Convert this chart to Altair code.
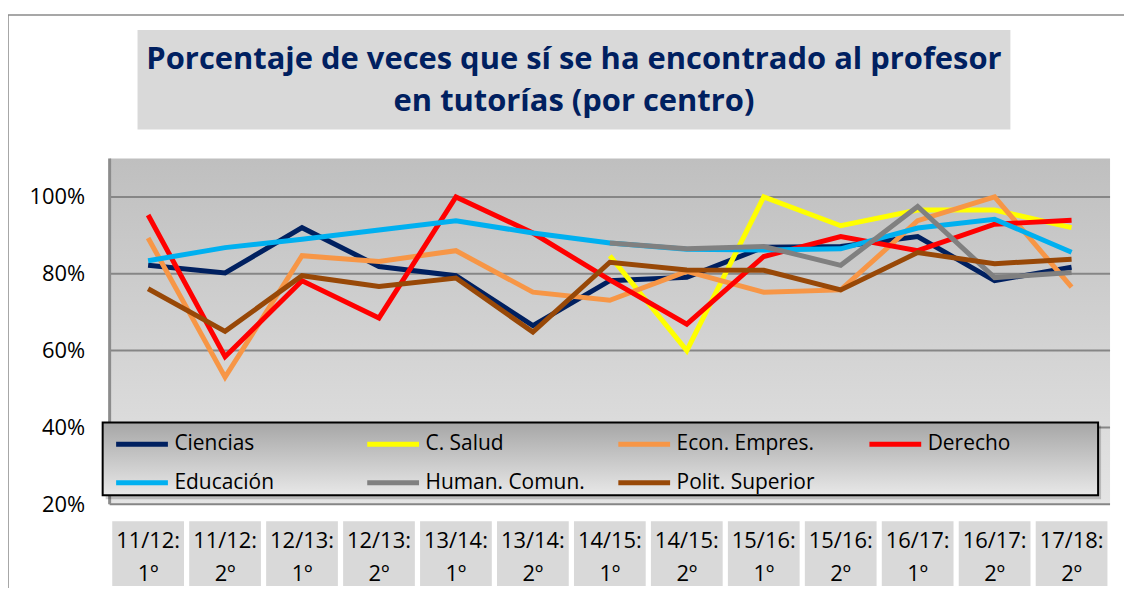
import altair as alt
import pandas as pd

categories = ["11/12: 1º", "11/12: 2º", "12/13: 1º", "12/13: 2º", "13/14: 1º",
              "13/14: 2º", "14/15: 1º", "14/15: 2º", "15/16: 1º", "15/16: 2º",
              "16/17: 1º", "16/17: 2º", "17/18: 2º"]

series_names = ["Ciencias", "C. Salud", "Econ. Empres.", "Derecho",
                "Educación", "Human. Comun.", "Polit. Superior"]
series_colors = ["#002060", "#FFFF00", "#F79646", "#FF0000",
                 "#00B0F0", "#808080", "#984807"]

ciencias = [82.2, 80.2, 92.0, 81.9, 79.5, 66.5, 78.2, 79.1, 86.9, 87.1, 89.7, 78.2, 81.7]
c_salud = [None, None, None, None, None, None, 84.7, 60.0, 100.0, 92.5, 96.6, 96.6, 92.0]
econ = [89.3, 53.1, 84.7, 83.2, 86.0, 75.2, 73.1, 80.6, 75.2, 75.8, 93.8, 100.0, 76.5]
derecho = [95.3, 58.4, 78.2, 68.5, 100.0, 90.6, 78.4, 66.9, 84.5, 89.7, 86.0, 92.9, 93.9]
educacion = [83.4, 86.8, 89.0, 91.4, 93.8, 90.6, 88.0, 86.4, 86.2, 86.5, 91.9, 94.2, 85.6]
human = [None, None, None, None, None, None, 88.0, 86.5, 87.1, 82.2, 97.5, 79.0, 80.3]
polit = [76.1, 65.0, 79.5, 76.7, 78.9, 64.8, 83.0, 81.0, 80.9, 75.8, 85.5, 82.6, 83.8]

y_ticks = [20, 40, 60, 80, 100]

title_text = "Porcentaje de veces que sí se ha encontrado al profesor\nen tutorías (por centro)"

all_series = [ciencias, c_salud, econ, derecho, educacion, human, polit]
rows = []
for name, vals in zip(series_names, all_series):
    for c, v in zip(categories, vals):
        if v is not None:
            rows.append({"serie": name, "cat": c, "v": v})
df = pd.DataFrame(rows)
cat_df = pd.DataFrame({"cat": categories})
tick_df = pd.DataFrame({"t": y_ticks})
one = pd.DataFrame({"k": [0]})

W, H = 1004, 347
FONT = "Open Sans"

xscale = alt.Scale(type="point", domain=categories, padding=0.5)
yscale = alt.Scale(domain=[20, 110], nice=False, zero=False)

plot_bg = alt.Chart(one).mark_rect(
    color=alt.Gradient(gradient="linear", x1=0, y1=0, x2=0, y2=1,
                       stops=[alt.GradientStop(color="#bfbfbf", offset=0),
                              alt.GradientStop(color="#e4e4e4", offset=1)])
).encode(x=alt.value(0), x2=alt.value(W), y=alt.value(0), y2=alt.value(H))

grid = alt.Chart(tick_df).mark_rule(color="#868686", strokeWidth=2).encode(
    y=alt.Y("t:Q", scale=yscale,
            axis=alt.Axis(title=None, values=y_ticks, grid=False, domain=False,
                          ticks=False, labelExpr="datum.value + '%'",
                          labelFont=FONT, labelFontSize=22, labelColor="#000000",
                          labelPadding=25)),
    x=alt.value(0), x2=alt.value(W))

left_axis = alt.Chart(one).mark_rule(color="#8c8c8c", strokeWidth=3).encode(
    x=alt.value(0), y=alt.value(0), y2=alt.value(H))

lines = alt.Chart(df).mark_line(strokeWidth=5).encode(
    x=alt.X("cat:N", scale=xscale, axis=None, sort=categories),
    y=alt.Y("v:Q", scale=yscale),
    color=alt.Color("serie:N", sort=series_names,
                    scale=alt.Scale(domain=series_names, range=series_colors),
                    legend=alt.Legend(title=None, orient="none", legendX=4, legendY=258,
                                      columns=4, direction="horizontal",
                                      symbolType="stroke", symbolSize=2700,
                                      symbolStrokeWidth=5, labelFont=FONT,
                                      labelFontSize=21, labelColor="#000000",
                                      labelOffset=4, columnPadding=23, rowPadding=-20,
                                      gridAlign="all", padding=0, zindex=1,
                                      labelLimit=300)),
    order=alt.Order("serie_order:Q"))

lines = lines.transform_calculate(
    serie_order="indexof(" + str(series_names).replace("'", '"') + ", datum.serie)")

legend_shadow = alt.Chart(one).mark_rect(color="#000000", opacity=0.18).encode(
    x=alt.value(-4), x2=alt.value(995), y=alt.value(268), y2=alt.value(342))

legend_box = alt.Chart(one).mark_rect(
    color=alt.Gradient(gradient="linear", x1=0, y1=0, x2=0, y2=1,
                       stops=[alt.GradientStop(color="#a6a6a6", offset=0),
                              alt.GradientStop(color="#e8e8e8", offset=1)]),
    stroke="#000000", strokeWidth=2
).encode(x=alt.value(-7), x2=alt.value(992), y=alt.value(265), y2=alt.value(338))

title_box = alt.Chart(one).mark_rect(color="#d9d9d9").encode(
    x=alt.value(28), x2=alt.value(904), y=alt.value(-129), y2=alt.value(-29))

title = alt.Chart(one).mark_text(
    text=title_text, lineBreak="\n", font=FONT, fontSize=31, fontWeight="bold",
    color="#002060", align="center", baseline="alphabetic", lineHeight=42
).encode(x=alt.value(466), y=alt.value(-90))

xboxes = alt.Chart(cat_df).mark_bar(size=72, color="#d9d9d9").encode(
    x=alt.X("cat:N", scale=xscale, sort=categories),
    y=alt.value(364), y2=alt.value(429))

xlabels = alt.Chart(cat_df).mark_text(
    lineBreak=" ", lineHeight=33, font=FONT, fontSize=22, color="#000000",
    align="center", baseline="middle"
).encode(x=alt.X("cat:N", scale=xscale, sort=categories),
         y=alt.value(384), text="cat:N")

frame_top = alt.Chart(one).mark_rule(color="#8a8a8a", strokeWidth=1.5).encode(
    x=alt.value(-102), x2=alt.value(1018), y=alt.value(-144))
frame_left = alt.Chart(one).mark_rule(color="#8a8a8a", strokeWidth=1.5).encode(
    x=alt.value(-102), y=alt.value(-144), y2=alt.value(431))

chart = alt.layer(
    plot_bg, grid, left_axis, lines, legend_shadow, legend_box,
    title_box, title, xboxes, xlabels, frame_top, frame_left
).properties(
    width=W, height=H,
    autosize=alt.AutoSizeParams(type="none"),
    padding={"left": 102, "top": 150, "right": 14, "bottom": 84},
    background="#ffffff"
).configure_view(stroke=None).resolve_scale(x="shared")

chart.save("out.html", embed_options={"renderer": "svg", "actions": False})
